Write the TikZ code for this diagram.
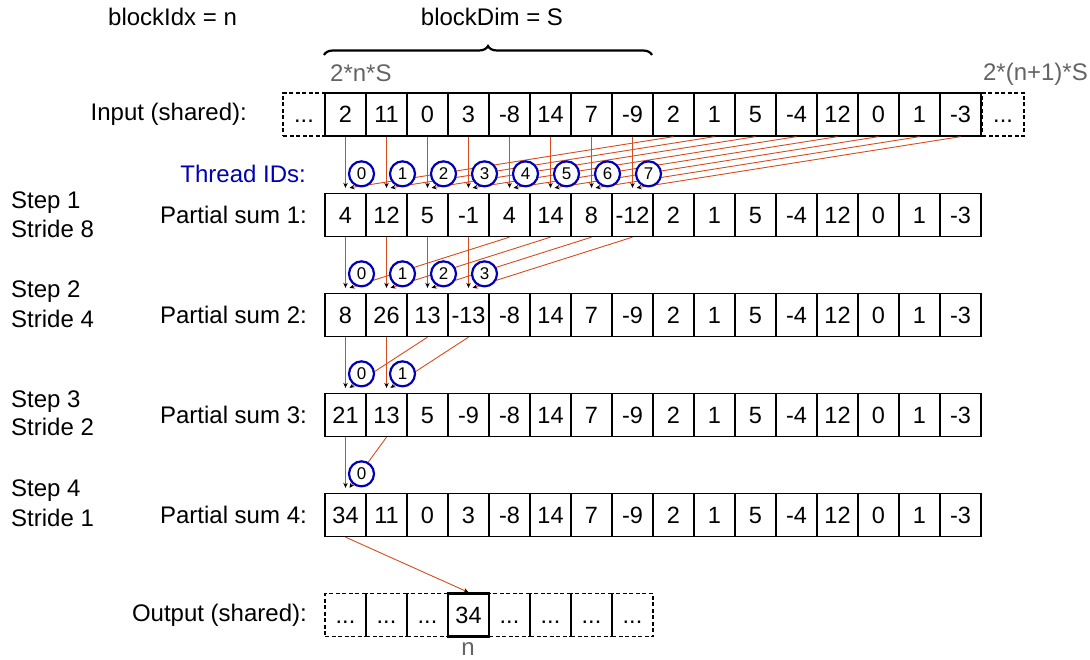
\documentclass[tikz,border=0pt]{standalone}
\usepackage{fontspec}
\setmainfont{Liberation Sans}
\usetikzlibrary{arrows.meta,decorations.pathreplacing}
\definecolor{edgeor}{RGB}{214,76,28}
\definecolor{tidblue}{RGB}{0,0,180}
\definecolor{lblgray}{RGB}{100,100,100}
\begin{document}
\begin{tikzpicture}[x=1pt,y=-1pt,
  cell/.style={draw,line width=1.3pt,minimum width=41pt,minimum height=43pt,inner sep=0pt,text height=16.5pt,text depth=0pt,font=\fontsize{23.5}{27}\selectfont},
  dcell/.style={cell,dash pattern=on 4pt off 2.5pt},
  lbl/.style={font=\fontsize{24}{28}\selectfont,inner sep=0pt},
  link/.style={draw=edgeor,line width=0.9pt,-{Stealth[black,length=5pt,width=4.5pt]}},
  tid/.style={circle,draw=tidblue,line width=2.2pt,fill=white,minimum size=25pt,inner sep=0pt,font=\fontsize{17}{20}\selectfont}]
\useasboundingbox (0,0) rectangle (1090,660);

% top labels
\node[lbl,anchor=west] (bidx) at (108,17) {blockIdx = n};
\node[lbl] (bdim) at (492,17) {blockDim = S};
\draw[line width=2.2pt,decorate,decoration={brace,amplitude=9pt}] (324,55) -- (652,55);
\node[lbl,anchor=west,text=lblgray] (lo) at (330,73) {2*n*S};
\node[lbl,anchor=east,text=lblgray] (hi) at (1088,74) {2*(n+1)*S};

% rows
\foreach \r/\y/\vals in {
  in/114.5/{2,11,0,3,-8,14,7,-9,2,1,5,-4,12,0,1,-3},
  p1/215/{4,12,5,-1,4,14,8,-12,2,1,5,-4,12,0,1,-3},
  p2/315/{8,26,13,-13,-8,14,7,-9,2,1,5,-4,12,0,1,-3},
  p3/415/{21,13,5,-9,-8,14,7,-9,2,1,5,-4,12,0,1,-3},
  p4/515/{34,11,0,3,-8,14,7,-9,2,1,5,-4,12,0,1,-3}}{
  \foreach \v [count=\i from 0] in \vals {
    \node[cell] (\r-\i) at ({345.5+41*\i},\y) {\v};
  }
}
\node[dcell,minimum width=42pt] (in-L) at (304,114.5) {...};
\node[dcell,minimum width=42pt] (in-R) at (1003,114.5) {...};

% output row
\foreach \i in {0,1,2,4,5,6,7}{
  \node[dcell] (out-\i) at ({345.5+41*\i},615) {...};
}
\node[cell,line width=2.4pt] (out-3) at ({345.5+41*3},615) {34};
\node[lbl,text=lblgray,anchor=base] (nlbl) at (468,655) {n};

% row labels
\node[lbl,anchor=east] (linput) at (247,114.5) {Input (shared):};
\node[lbl,anchor=east,text=tidblue] (ltid) at (306,174) {Thread IDs:};
\node[lbl,anchor=east] (lp1) at (307,215) {Partial sum 1:};
\node[lbl,anchor=east] (lp2) at (307,315) {Partial sum 2:};
\node[lbl,anchor=east] (lp3) at (307,415) {Partial sum 3:};
\node[lbl,anchor=east] (lp4) at (307,515) {Partial sum 4:};
\node[lbl,anchor=east] (lout) at (307,615) {Output (shared):};

\node[lbl,anchor=west] (s1a) at (11,203) {Step 1};
\node[lbl,anchor=west] (s1b) at (11,229) {Stride 8};
\node[lbl,anchor=west] (s2a) at (11,292) {Step 2};
\node[lbl,anchor=west] (s2b) at (11,319) {Stride 4};
\node[lbl,anchor=west] (s3a) at (11,402) {Step 3};
\node[lbl,anchor=west] (s3b) at (11,427) {Stride 2};
\node[lbl,anchor=west] (s4a) at (11,491) {Step 4};
\node[lbl,anchor=west] (s4b) at (11,518) {Stride 1};

% reduction arrows
\foreach \src/\dst/\s in {in/p1/8, p1/p2/4, p2/p3/2, p3/p4/1}{
  \pgfmathtruncatemacro\last{\s-1}
  \foreach \i in {0,...,\last}{
    \pgfmathtruncatemacro\j{\i+\s}
    \draw[link] (\src-\i.south) -- ([yshift=5pt]\dst-\i.north);
    \draw[link] (\src-\j.south) -- ([xshift=4pt,yshift=5pt]\dst-\i.north);
  }
}
\foreach \dst/\s in {p1/8, p2/4, p3/2, p4/1}{
  \pgfmathtruncatemacro\last{\s-1}
  \foreach \i in {0,...,\last}{
    \node[tid] (t-\dst-\i) at ([xshift=16pt,yshift=19pt]\dst-\i.north) {\i};
  }
}
\draw[link] (p4-0.south) -- (out-3.north);
\end{tikzpicture}
\end{document}
